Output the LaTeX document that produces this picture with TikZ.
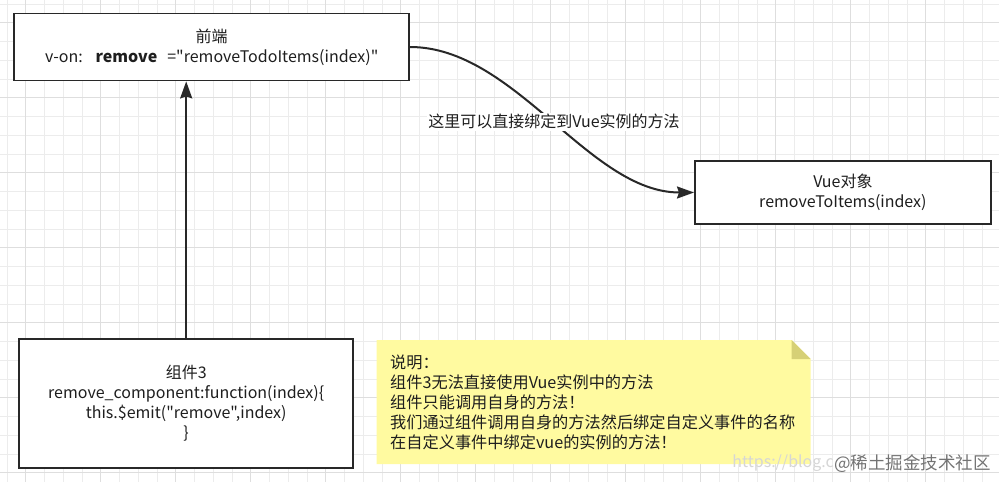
\documentclass[tikz,border=0pt]{standalone}
\usepackage{fontspec}
\setmainfont{Noto Sans CJK SC}[Ligatures=TeXOff]
\usetikzlibrary{arrows.meta}
\definecolor{gridminor}{RGB}{236,236,236}
\definecolor{gridmajor}{RGB}{222,222,222}
\definecolor{linecol}{RGB}{40,40,40}
\definecolor{txtcol}{RGB}{30,30,30}
\definecolor{notefill}{RGB}{255,250,160}
\definecolor{foldfill}{RGB}{214,208,118}
\tikzset{
  boxnode/.style={draw=linecol, line width=1.8pt, fill=white, inner sep=0pt, align=center,
    text=txtcol, font=\fontsize{16}{20}\selectfont},
  conn/.style={draw=linecol, line width=2pt, -{Stealth[length=17pt,width=12pt,inset=2pt]}},
  lbl/.style={fill=white, inner sep=1.5pt, text=txtcol, font=\fontsize{16}{20}\selectfont},
  notetxt/.style={inner sep=0pt, align=left, text=txtcol, font=\fontsize{16.2}{20}\selectfont},
}
\begin{document}
\begin{tikzpicture}[x=1pt,y=-1pt]
\useasboundingbox (0,0) rectangle (999,482);
\fill[white] (0,0) rectangle (999,482);
% grid
\foreach \i in {0,...,53} {\draw[gridminor, line width=0.8pt] ({6.95+18.75*\i},0) -- ({6.95+18.75*\i},482);}
\foreach \j in {0,...,25} {\draw[gridminor, line width=0.8pt] (0,{3.95+18.75*\j}) -- (999,{3.95+18.75*\j});}
\foreach \i in {0,...,12} {\draw[gridmajor, line width=0.9pt] ({25.7+75*\i},0) -- ({25.7+75*\i},482);}
\foreach \j in {0,...,6} {\draw[gridmajor, line width=0.9pt] (0,{22.7+75*\j}) -- (999,{22.7+75*\j});}

% boxes
\node[boxnode, minimum width=395pt, minimum height=67pt] (fe) at (211.7,47)
  {前端\\v-on:\hspace{13pt}\textbf{remove}\hspace{10pt}="removeTodoItems(index)"};
\node[boxnode, minimum width=296pt, minimum height=63.5pt] (vue) at (842.9,192.5)
  {Vue对象\\removeToItems(index)};
\node[boxnode, minimum width=334pt, minimum height=128.5pt] (comp) at (186.2,403.4)
  {组件3\\remove\_component:function(index)\{\\this.\$emit("remove",index)\\\}};

% note
\fill[notefill] (376.7,340) -- (791.7,340) -- (810.7,359) -- (810.7,464) -- (376.7,464) -- cycle;
\fill[foldfill] (791.7,340) -- (810.7,359) -- (791.7,359) -- cycle;
\node[notetxt, anchor=west] (notetext) at (390,402.7)
  {说明：\\组件3无法直接使用Vue实例中的方法\\组件只能调用自身的方法！\\我们通过组件调用自身的方法然后绑定自定义事件的名称\\在自定义事件中绑定vue的实例的方法！};

% connectors
\draw[conn] (comp.north) -- (comp.north |- fe.south);
\draw[conn] (fe.east) .. controls +(105,0) and +(-105,0) .. (vue.west);
\node[lbl] (edgelabel) at (554,121.7) {这里可以直接绑定到Vue实例的方法};

% watermark
\node[inner sep=0pt, anchor=east, text=black!16, font=\fontsize{16}{18}\selectfont] (wm1) at (834,463.5) {https://blog.c};
\node[inner sep=0pt, anchor=west, text=black!55, font=\fontsize{17.5}{20}\selectfont] (wm2) at (834,463.5) {@稀土掘金技术社区};
\end{tikzpicture}
\end{document}
